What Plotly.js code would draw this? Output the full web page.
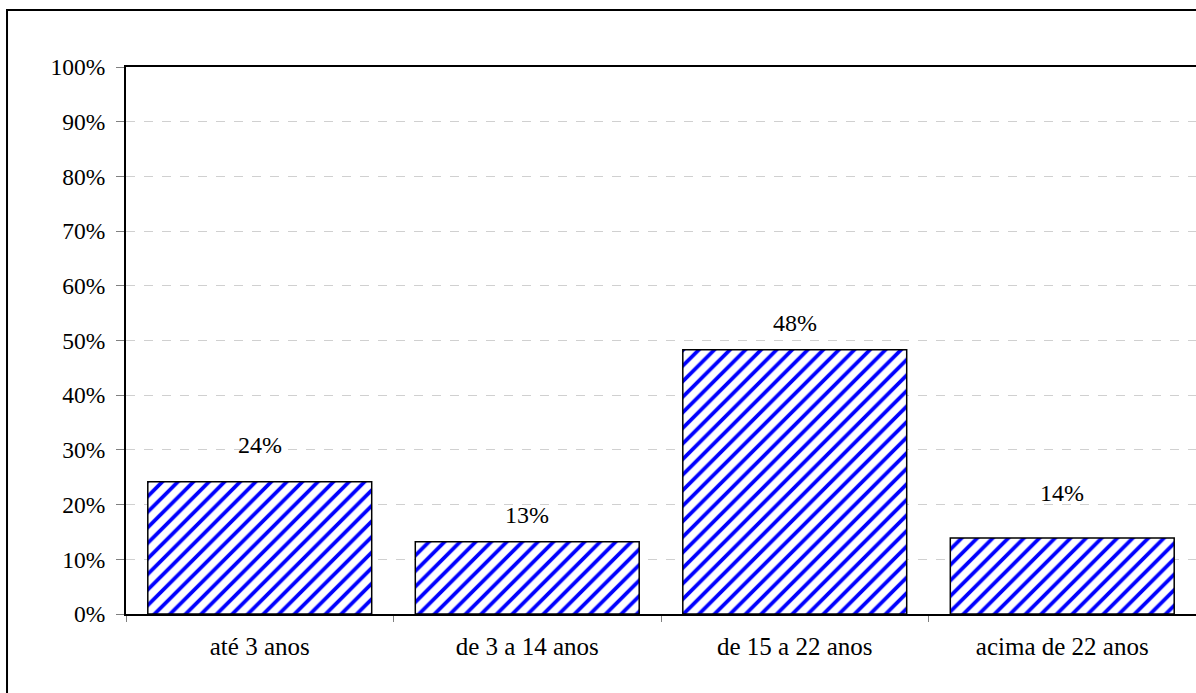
<!DOCTYPE html>
<html>
<head>
<meta charset="utf-8">
<script src="https://cdn.plot.ly/plotly-3.0.1.min.js"></script>
<style>
  html, body { margin: 0; padding: 0; background: #fff; overflow: hidden; }
  #chart { width: 1196px; height: 693px; }
</style>
</head>
<body>
<div id="chart"></div>
<script>
// Data
const categories = ["até 3 anos", "de 3 a 14 anos", "de 15 a 22 anos", "acima de 22 anos"];
const values = [24.2, 13.2, 48.3, 13.9];
const valueLabels = ["24%", "13%", "48%", "14%"];
const yTickValues = [0, 10, 20, 30, 40, 50, 60, 70, 80, 90, 100];
const yTickLabels = ["0%", "10%", "20%", "30%", "40%", "50%", "60%", "70%", "80%", "90%", "100%"];

// Style: vertical offset of each data label above its bar (px)
const labelOffsets = [37, 27, 27, 45];

const FONT = '"Liberation Serif", "Times New Roman", serif';

const trace = {
  type: 'bar',
  x: categories,
  y: values,
  marker: {
    color: '#ffffff',
    line: { color: '#000000', width: 1.5 },
    pattern: { shape: '/', fgcolor: '#0000ff', bgcolor: '#ffffff', size: 11, solidity: 0.34 }
  },
  hoverinfo: 'none'
};

const annotations = categories.map((c, i) => ({
  x: c, y: values[i], xref: 'x', yref: 'y',
  text: valueLabels[i], showarrow: false,
  yshift: labelOffsets[i], yanchor: 'middle',
  font: { family: FONT, size: 24, color: '#000' }
}));

const layout = {
  width: 1196, height: 693,
  margin: { l: 126, r: 0, t: 67, b: 79 },
  paper_bgcolor: '#ffffff',
  plot_bgcolor: '#ffffff',
  showlegend: false,
  bargap: 0.163,
  font: { family: FONT, size: 24, color: '#000' },
  xaxis: {
    type: 'category',
    showline: true, linecolor: '#000', linewidth: 2, mirror: true,
    ticks: 'outside', tickson: 'boundaries', ticklen: 6, tickcolor: '#808080', tickwidth: 1,
    showgrid: false, zeroline: false,
    tickfont: { family: FONT, size: 25, color: '#000' },
    ticklabelstandoff: 9
  },
  yaxis: {
    range: [0, 100], fixedrange: true,
    tickvals: yTickValues, ticktext: yTickLabels,
    showline: true, linecolor: '#000', linewidth: 2,
    ticks: 'outside', ticklen: 8, tickcolor: '#808080', tickwidth: 1,
    showgrid: true, gridcolor: '#d0d0d0', griddash: 'dash', gridwidth: 1,
    zeroline: false,
    tickfont: { family: FONT, size: 23.5, color: '#000' },
    ticklabelstandoff: 6
  },
  annotations: annotations,
  shapes: [{
    type: 'rect', xref: 'paper', yref: 'paper',
    x0: -0.1112, x1: 1.05, y0: -0.2, y1: 1.1042,
    line: { color: '#000', width: 2 }, fillcolor: 'rgba(0,0,0,0)', layer: 'above'
  }]
};

Plotly.newPlot('chart', [trace], layout, { displayModeBar: false, staticPlot: true });
</script>
</body>
</html>
